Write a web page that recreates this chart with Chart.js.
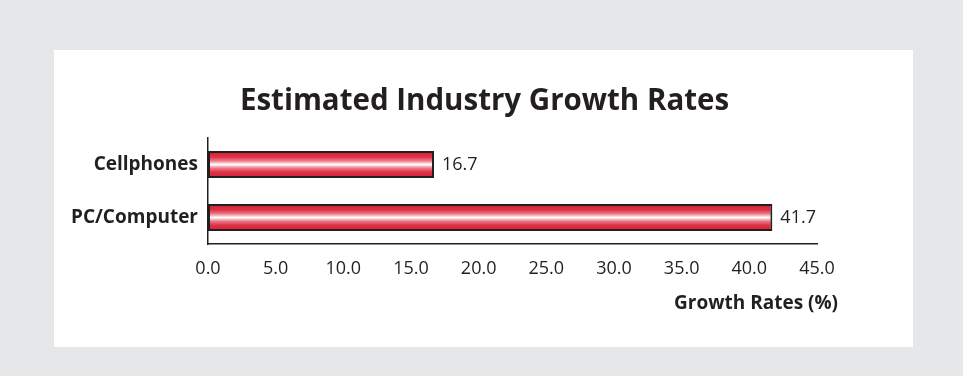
<!DOCTYPE html>
<html>
<head>
<meta charset="utf-8">
<script src="https://cdn.jsdelivr.net/npm/chart.js@4"></script>
<style>
  html, body { margin: 0; padding: 0; background: #e6e7e9; width: 963px; height: 376px; overflow: hidden; }
  #panel { position: absolute; left: 54px; top: 50px; width: 859px; height: 297px; background: #ffffff; }
  canvas { display: block; }
</style>
</head>
<body>
<div id="panel"><canvas id="chart" width="859" height="297"></canvas></div>
<script>
// Industry growth data
const categories = ['Cellphones', 'PC/Computer'];
const growthRates = [16.7, 41.7];
const xTickValues = [0, 5, 10, 15, 20, 25, 30, 35, 40, 45];
const chartTitle = 'Estimated Industry Growth Rates';
const xAxisTitle = 'Growth Rates (%)';

const TEXT = '#231f20';
const FONT = "'Open Sans', 'Noto Sans', sans-serif";
const BAR_PCT = 0.51;
const FALLBACK_RED = '#d9283c';

// Vertical red-white-red gradient across each bar's thickness
function barGradient(ctx) {
  const chart = ctx.chart;
  const y = chart.scales && chart.scales.y;
  if (!y || ctx.dataIndex == null) return FALLBACK_RED;
  const band = (y.bottom - y.top) / categories.length;
  const h = band * BAR_PCT;
  const c = y.getPixelForValue(ctx.dataIndex);
  if (!isFinite(c) || !isFinite(h) || h <= 0) return FALLBACK_RED;
  const g = chart.ctx.createLinearGradient(0, c - h / 2, 0, c + h / 2);
  g.addColorStop(0.0, '#d21e35');
  g.addColorStop(0.22, '#de3247');
  g.addColorStop(0.36, '#ec7785');
  g.addColorStop(0.5, '#ffffff');
  g.addColorStop(0.64, '#ec7785');
  g.addColorStop(0.78, '#de3247');
  g.addColorStop(1.0, '#d21e35');
  return g;
}

// Title, value labels beside each bar, and the axis title under the tick labels
const annotations = {
  id: 'annotations',
  afterDatasetsDraw(chart) {
    const ctx = chart.ctx;
    const meta = chart.getDatasetMeta(0);
    ctx.save();
    ctx.fillStyle = TEXT;

    ctx.font = 'bold 29.5px ' + FONT;
    ctx.textAlign = 'center';
    ctx.textBaseline = 'alphabetic';
    ctx.fillText(chartTitle, chart.width / 2 + 1, 60);

    ctx.font = '18px ' + FONT;
    ctx.textAlign = 'left';
    ctx.textBaseline = 'middle';
    meta.data.forEach((bar, i) => {
      ctx.fillText(growthRates[i].toFixed(1), bar.x + 8, bar.y);
    });

    ctx.font = 'bold 19px ' + FONT;
    ctx.textAlign = 'right';
    ctx.textBaseline = 'alphabetic';
    ctx.fillText(xAxisTitle, chart.chartArea.right + 21, chart.chartArea.bottom + 65);
    ctx.restore();
  }
};

new Chart(document.getElementById('chart'), {
  type: 'bar',
  data: {
    labels: categories,
    datasets: [{
      data: growthRates,
      backgroundColor: barGradient,
      borderColor: '#231f20',
      borderWidth: 2,
      borderSkipped: false,
      barPercentage: BAR_PCT,
      categoryPercentage: 1.0
    }]
  },
  options: {
    indexAxis: 'y',
    responsive: false,
    animation: false,
    layout: { padding: { left: 0, right: 96, top: 88, bottom: 0 } },
    plugins: {
      legend: { display: false },
      tooltip: { enabled: false },
      title: { display: false }
    },
    scales: {
      x: {
        min: 0,
        max: 45,
        afterBuildTicks(scale) { scale.ticks = xTickValues.map(v => ({ value: v })); },
        afterFit(scale) { scale.height = 103; },
        grid: { display: false, drawTicks: false },
        border: { display: true, color: '#231f20', width: 1.5 },
        ticks: {
          color: TEXT,
          padding: 14,
          maxRotation: 0,
          font: { family: FONT, size: 18 },
          callback: v => Number(v).toFixed(1)
        }
      },
      y: {
        afterFit(scale) { scale.width = 154; },
        grid: { display: false, drawTicks: false },
        border: { display: true, color: '#231f20', width: 1.5 },
        ticks: {
          color: TEXT,
          padding: 10,
          font: { family: FONT, size: 19, weight: 'bold' }
        }
      }
    }
  },
  plugins: [annotations]
});
</script>
</body>
</html>
